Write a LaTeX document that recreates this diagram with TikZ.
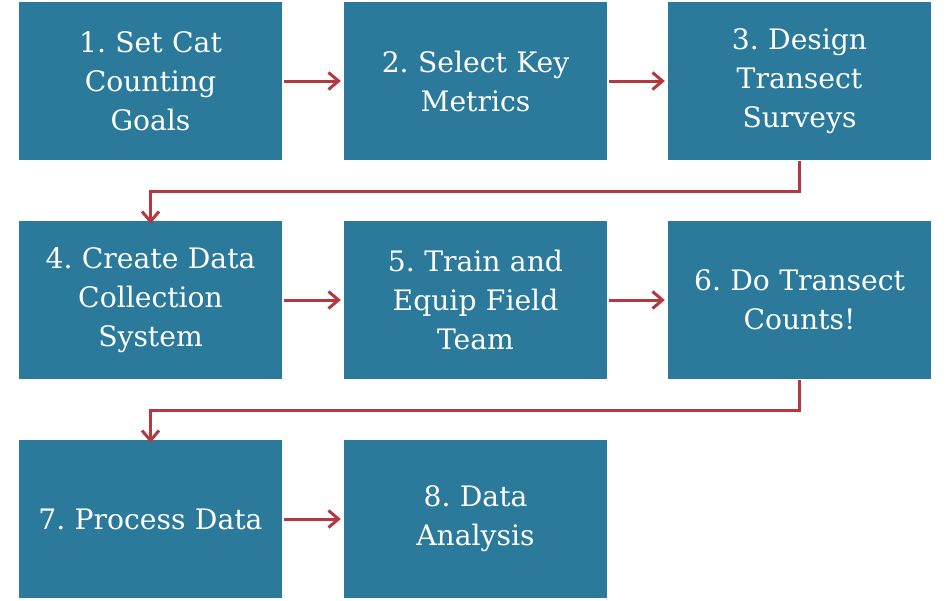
\documentclass[tikz,border=0pt]{standalone}
\usepackage{fontspec}
\setmainfont{DejaVu Serif}
\usetikzlibrary{arrows.meta}
\definecolor{boxblue}{HTML}{2B7A9B}
\definecolor{arrred}{HTML}{B5373F}
\begin{document}
\frenchspacing
\begin{tikzpicture}[x=1pt,y=-1pt,
  stepbox/.style={fill=boxblue, minimum width=263pt, minimum height=158pt, inner sep=0pt,
    text=white, align=center, font=\fontsize{28.2}{39}\selectfont, text width=258pt},
  flow/.style={draw=arrred, line width=3pt, -{Straight Barb[length=10pt,width=17pt,line width=3pt]}}]
\useasboundingbox (0,0) rectangle (950,600);
\node[stepbox] (n1) at (150.5,81) {1. Set Cat\\Counting\\Goals};
\node[stepbox] (n2) at (475.5,81) {2. Select Key\\Metrics};
\node[stepbox] (n3) at (799.5,81) {3. Design\\Transect\\Surveys};
\node[stepbox] (n4) at (150.5,300) {4. Create Data\\Collection\\System};
\node[stepbox] (n5) at (475.5,300) {5. Train and\\Equip Field\\Team};
\node[stepbox] (n6) at (799.5,300) {6. Do Transect\\Counts!};
\node[stepbox] (n7) at (150.5,519) {7. Process Data};
\node[stepbox] (n8) at (475.5,519) {8. Data\\Analysis};
\draw[flow] ([xshift=2pt]n1.east) -- ([xshift=-3pt]n2.west);
\draw[flow] ([xshift=2pt]n2.east) -- ([xshift=-3pt]n3.west);
\draw[flow] ([xshift=2pt]n4.east) -- ([xshift=-3pt]n5.west);
\draw[flow] ([xshift=2pt]n5.east) -- ([xshift=-3pt]n6.west);
\draw[flow] ([xshift=2pt]n7.east) -- ([xshift=-3pt]n8.west);
\draw[flow] ([yshift=-1pt]n3.south) -- ++(0,30) -| ([yshift=-3pt]n4.north);
\draw[flow] ([yshift=-1pt]n6.south) -- ++(0,30) -| ([yshift=-3pt]n7.north);
\end{tikzpicture}
\end{document}
